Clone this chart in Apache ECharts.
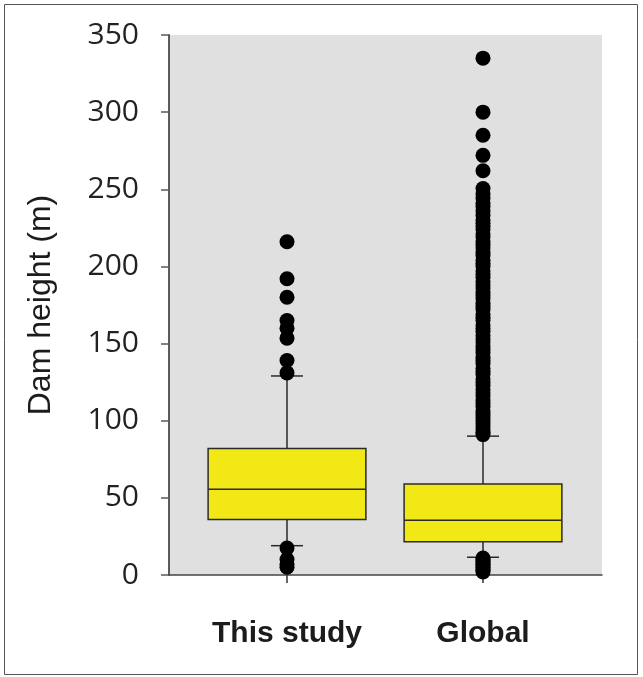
<!DOCTYPE html>
<html>
<head>
<meta charset="utf-8">
<script src="https://cdn.jsdelivr.net/npm/echarts@6/dist/echarts.min.js"></script>
<style>
  html, body { margin: 0; padding: 0; background: #ffffff; }
  #chart { width: 643px; height: 677px; }
</style>
</head>
<body>
<div id="chart"></div>
<script>
// ---- data ----
var categories = ['This study', 'Global'];
var yTicks = [0, 50, 100, 150, 200, 250, 300, 350];
// [lower whisker, Q1, median, Q3, upper whisker]
var thisStudyBox = [19, 36, 55.5, 82, 129];
var globalBox = [11.5, 21.6, 35.5, 59, 90];
var thisStudyOutliers = [216, 192, 180, 165, 160, 153.5, 139, 131, 17.5, 10, 7, 5];
var globalOutliers = [335, 300, 285, 272, 262, 250.5, 247,
  244, 241, 239, 236, 233, 230, 228, 226, 224, 221, 219, 216, 214, 212, 209, 207,
  204, 202, 200, 197, 195, 193, 190, 188, 186, 183, 181, 179, 176, 174, 172, 169,
  167, 165, 162, 160, 158, 155, 153, 151, 148, 146, 144, 141, 139, 137, 134, 132,
  130, 127, 125, 123, 120, 118, 116, 113, 111, 109, 106, 104, 102, 100, 98, 96,
  94, 92.5, 91,
  11, 10, 9, 8, 7, 6, 5, 4, 3, 2];

// ---- build series data ----
var boxData = [
  [0].concat(thisStudyBox),
  [1].concat(globalBox)
];
var outlierData = [];
thisStudyOutliers.forEach(function (v) { outlierData.push([0, v]); });
globalOutliers.forEach(function (v) { outlierData.push([1, v]); });

var strokeCol = '#2a2a2a';

function renderBox(params, api) {
  var idx = api.value(0);
  var lo = api.coord([idx, api.value(1)]);
  var q1 = api.coord([idx, api.value(2)]);
  var med = api.coord([idx, api.value(3)]);
  var q3 = api.coord([idx, api.value(4)]);
  var hi = api.coord([idx, api.value(5)]);
  var band = api.size([1, 0])[0];
  var bw = band * 0.805;
  var capHalf = 16;
  var x = lo[0];
  var ls = { stroke: strokeCol, lineWidth: 1.5 };
  return {
    type: 'group',
    children: [
      { type: 'line', shape: { x1: x, y1: hi[1], x2: x, y2: q3[1] }, style: ls },
      { type: 'line', shape: { x1: x, y1: q1[1], x2: x, y2: lo[1] }, style: ls },
      { type: 'line', shape: { x1: x - capHalf, y1: hi[1], x2: x + capHalf, y2: hi[1] }, style: ls },
      { type: 'line', shape: { x1: x - capHalf, y1: lo[1], x2: x + capHalf, y2: lo[1] }, style: ls },
      { type: 'rect', shape: { x: x - bw / 2, y: q3[1], width: bw, height: q1[1] - q3[1] },
        style: { fill: '#f1e816', stroke: strokeCol, lineWidth: 1.5 } },
      { type: 'line', shape: { x1: x - bw / 2, y1: med[1], x2: x + bw / 2, y2: med[1] }, style: ls }
    ]
  };
}

var chart = echarts.init(document.getElementById('chart'), null, { renderer: 'canvas' });
chart.setOption({
  animation: false,
  backgroundColor: '#ffffff',
  graphic: [{
    type: 'rect',
    shape: { x: 4.5, y: 4.5, width: 633, height: 670 },
    style: { fill: 'none', stroke: '#555555', lineWidth: 1 },
    silent: true,
    z: -10
  }],
  grid: [
    { left: 169, right: 41, top: 35, bottom: 102, show: true, backgroundColor: '#e0e0e0', borderWidth: 0 },
    { left: 189, right: 62, top: 35, bottom: 102 }
  ],
  xAxis: [
    { type: 'value', gridIndex: 0, min: 0, max: 1,
      axisLine: { show: true, lineStyle: { color: '#444444', width: 1.5 } },
      axisTick: { show: false }, axisLabel: { show: false }, splitLine: { show: false } },
    { type: 'category', gridIndex: 1, data: categories, boundaryGap: true,
      axisLine: { show: false },
      axisTick: { show: true, alignWithLabel: true, length: 8, lineStyle: { color: '#333333', width: 1.5 } },
      axisLabel: { margin: 44, fontFamily: 'Liberation Sans', fontWeight: 'bold', fontSize: 30, color: '#1c1c1c' },
      splitLine: { show: false } }
  ],
  yAxis: [
    { type: 'value', gridIndex: 0, min: 0, max: 350, interval: 50,
      name: 'Dam height (m)', nameLocation: 'middle', nameGap: 112,
      nameTextStyle: { fontFamily: 'Liberation Sans', fontSize: 32, color: '#1c1c1c' },
      axisLine: { show: true, lineStyle: { color: '#5a5a5a', width: 2 } },
      axisTick: { show: true, inside: false, length: 8, lineStyle: { color: '#5a5a5a', width: 1.5 } },
      axisLabel: { margin: 30, fontFamily: 'Open Sans', fontSize: 30, color: '#222222',
        formatter: function (v) { return yTicks.indexOf(v) >= 0 ? String(v) : ''; } },
      splitLine: { show: false } },
    { type: 'value', gridIndex: 1, min: 0, max: 350, interval: 50, show: false, splitLine: { show: false } }
  ],
  series: [
    { type: 'custom', xAxisIndex: 1, yAxisIndex: 1, renderItem: renderBox,
      encode: { x: 0, y: [1, 2, 3, 4, 5] }, data: boxData, z: 2 },
    { type: 'scatter', xAxisIndex: 1, yAxisIndex: 1, data: outlierData,
      symbol: 'circle', symbolSize: 15, itemStyle: { color: '#000000', opacity: 1 }, z: 3 }
  ]
});
</script>
</body>
</html>
